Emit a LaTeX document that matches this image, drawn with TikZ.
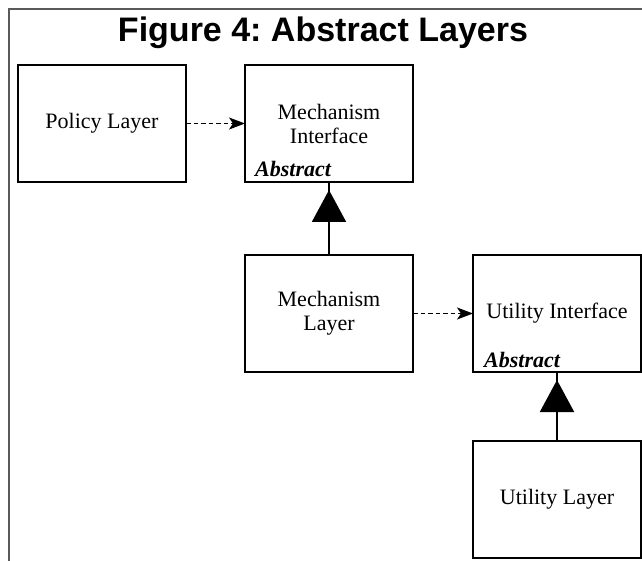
\documentclass[tikz,border=0pt]{standalone}
\usepackage{fontspec}
\setmainfont{Liberation Serif}
\setsansfont{Liberation Sans}
\usetikzlibrary{arrows.meta, positioning}
\usepackage{xcolor}
\definecolor{framecol}{HTML}{5A5A5A}
\definecolor{linecol}{HTML}{000000}

\begin{document}
\begin{tikzpicture}[
    x=1pt, y=1pt,
    box/.style={
        draw=linecol, line width=2pt, minimum width=168pt, minimum height=117pt,
        inner sep=0pt, outer sep=0pt, align=center,
        font=\fontsize{22}{24}\selectfont
    },
    abstract/.style={
        font=\fontsize{22}{24}\selectfont\bfseries\itshape, inner sep=0pt, anchor=base west
    },
    title/.style={
        font=\sffamily\bfseries\fontsize{34}{36}\selectfont, inner sep=0pt, anchor=base
    },
    uses/.style={
        draw=linecol, line width=1.8pt, dash pattern=on 4.5pt off 3pt,
        -{Stealth[length=16pt, width=12pt, inset=4pt]}
    },
    inherits/.style={
        draw=linecol, line width=2pt,
        -{Triangle[length=32pt, width=34pt]}, shorten >=8pt
    },
]
\useasboundingbox (0,0) rectangle (642,-561);

% ── Frame and title ──
\coordinate (frameBL) at (9,-561);
\coordinate (frameTL) at (9,-9);
\coordinate (frameTR) at (642,-9);
\draw[framecol, line width=2pt] (frameBL) -- (frameTL) -- (frameTR);

\node[title] (title) at (323,-42) {\frenchspacing Figure 4: Abstract Layers};

% ── Boxes ──
\node[box] (policy) at (102,-123.5) {Policy Layer};
\node[box, right=59pt of policy] (mechif) {Mechanism\\Interface};
\node[box, below=73pt of mechif] (mechlayer) {Mechanism\\Layer};
\node[box, right=60pt of mechlayer] (utilif) {Utility Interface};
\node[box, below=69pt of utilif] (utillayer) {Utility Layer};

% ── Abstract tags ──
\node[abstract] (mechifabs) at ([shift={(10pt,5pt)}]mechif.south west) {Abstract};
\node[abstract] (utilifabs) at ([shift={(11pt,5pt)}]utilif.south west) {Abstract};

% ── Use arrows ──
\draw[uses] (policy.east) -- (mechif.west);
\draw[uses] (mechlayer.east) -- (utilif.west);

% ── Inheritance arrows ──
\draw[linecol, line width=2pt] (mechlayer.north) -- (mechif.south);
\draw[inherits] (mechlayer.north) -- (mechif.south);
\draw[linecol, line width=2pt] (utillayer.north) -- (utilif.south);
\draw[inherits] (utillayer.north) -- (utilif.south);

\end{tikzpicture}
\end{document}
